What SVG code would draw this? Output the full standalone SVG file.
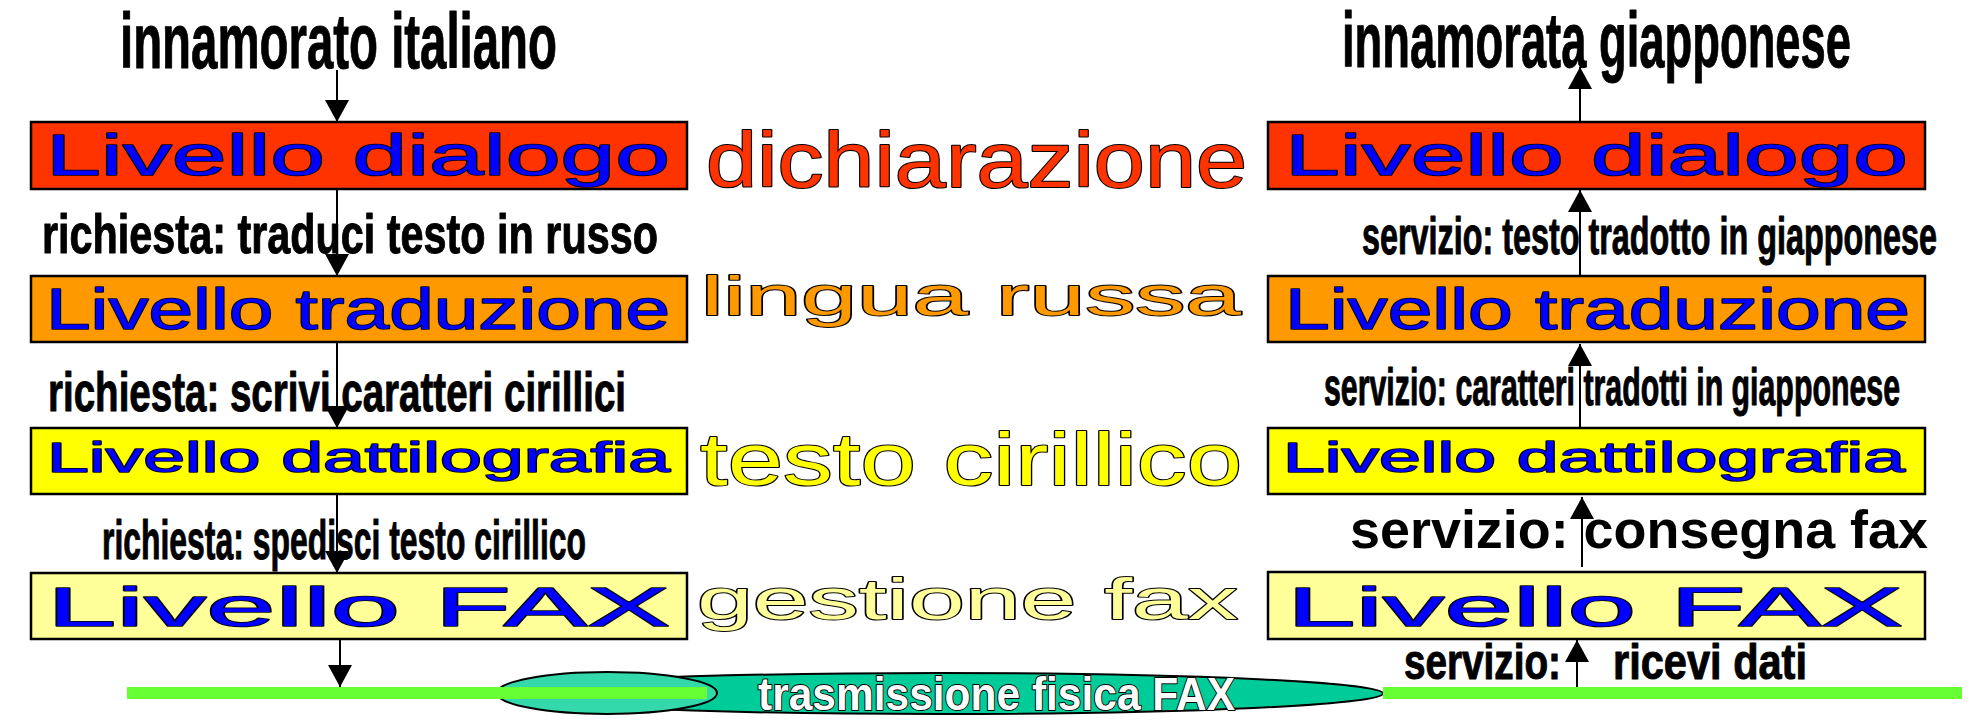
<svg xmlns="http://www.w3.org/2000/svg" width="1984" height="726" viewBox="0 0 1984 726">
<style>
.box{stroke:#000;stroke-width:2.5}
.lv{font-family:"Liberation Sans",Arial,sans-serif;fill:#0000FF;stroke:#000;stroke-width:1.6;paint-order:stroke fill;stroke-linejoin:round}
.cond{font-family:"Liberation Sans Narrow","Liberation Sans",Arial,sans-serif;font-weight:bold;fill:#000;stroke:#000;stroke-width:1;stroke-linejoin:round}
.mid{font-family:"Liberation Sans",Arial,sans-serif;stroke:#000;stroke-width:2;paint-order:stroke fill;stroke-linejoin:round}
.ln{stroke:#000;stroke-width:2;fill:none}
.green{fill:#66FF33}
</style>
<defs>
<marker id="ah" markerUnits="userSpaceOnUse" markerWidth="24" markerHeight="24" viewBox="0 0 24 24" refX="22" refY="12" orient="auto">
<path d="M0,0 L22,12 L0,24 Z" fill="#000"/>
</marker>
</defs>
<rect width="1984" height="726" fill="#fff"/>

<!-- bottom physical layer -->
<g id="physical">
<ellipse cx="940" cy="693.5" rx="443" ry="20.5" fill="#00CC99" stroke="#000" stroke-width="2"/>
<ellipse cx="607" cy="693" rx="110" ry="21" fill="#33D9AA" stroke="#000" stroke-width="2"/>
<rect class="green" x="127" y="687" width="580" height="12"/>
<rect class="green" x="1383" y="687" width="579" height="12"/>
<text class="mid" x="758" y="710" font-size="46" font-weight="bold" fill="#fff" textLength="477" lengthAdjust="spacingAndGlyphs" style="font-family:'Liberation Sans Narrow','Liberation Sans',Arial,sans-serif">trasmissione fisica FAX</text>
</g>

<!-- connectors -->
<g id="connectors">
<line class="ln" x1="337" y1="70" x2="337" y2="122" marker-end="url(#ah)"/>
<line class="ln" x1="337" y1="189" x2="337" y2="276" marker-end="url(#ah)"/>
<line class="ln" x1="337" y1="342" x2="337" y2="428" marker-end="url(#ah)"/>
<line class="ln" x1="337" y1="494" x2="337" y2="573" marker-end="url(#ah)"/>
<line class="ln" x1="340" y1="639" x2="340" y2="687" marker-end="url(#ah)"/>
<line class="ln" x1="1580" y1="122" x2="1580" y2="67" marker-end="url(#ah)"/>
<line class="ln" x1="1580" y1="276" x2="1580" y2="190" marker-end="url(#ah)"/>
<line class="ln" x1="1580" y1="428" x2="1580" y2="344" marker-end="url(#ah)"/>
<line class="ln" x1="1582" y1="567" x2="1582" y2="497" marker-end="url(#ah)"/>
<line class="ln" x1="1577" y1="687" x2="1577" y2="640" marker-end="url(#ah)"/>
</g>

<!-- top labels -->
<g id="sender-label"><text class="cond" x="120" y="68" font-size="78" textLength="437" lengthAdjust="spacingAndGlyphs">innamorato italiano</text></g>
<g id="receiver-label"><text class="cond" x="1342" y="67" font-size="78" textLength="509" lengthAdjust="spacingAndGlyphs">innamorata giapponese</text></g>

<!-- left stack -->
<g id="left-dialogo">
<rect class="box" x="31" y="122" width="656" height="67" fill="#FF3300"/>
<text class="lv" x="46" y="175" font-size="58" textLength="624" lengthAdjust="spacingAndGlyphs">Livello dialogo</text>
</g>
<g id="left-traduzione">
<rect class="box" x="31" y="276" width="656" height="66" fill="#FF9900"/>
<text class="lv" x="46" y="329" font-size="57" textLength="624" lengthAdjust="spacingAndGlyphs">Livello traduzione</text>
</g>
<g id="left-dattilografia">
<rect class="box" x="31" y="428" width="656" height="66" fill="#FFFF00"/>
<text class="lv" x="47" y="472" font-size="42" textLength="623" lengthAdjust="spacingAndGlyphs">Livello dattilografia</text>
</g>
<g id="left-fax">
<rect class="box" x="31" y="573" width="656" height="66" fill="#FFFF99"/>
<text class="lv" x="47" y="626" font-size="56" textLength="623" lengthAdjust="spacingAndGlyphs">Livello FAX</text>
</g>

<!-- right stack -->
<g id="right-dialogo">
<rect class="box" x="1268" y="122" width="657" height="67" fill="#FF3300"/>
<text class="lv" x="1285" y="175" font-size="58" textLength="623" lengthAdjust="spacingAndGlyphs">Livello dialogo</text>
</g>
<g id="right-traduzione">
<rect class="box" x="1268" y="276" width="657" height="66" fill="#FF9900"/>
<text class="lv" x="1285" y="329" font-size="57" textLength="625" lengthAdjust="spacingAndGlyphs">Livello traduzione</text>
</g>
<g id="right-dattilografia">
<rect class="box" x="1268" y="428" width="657" height="66" fill="#FFFF00"/>
<text class="lv" x="1283" y="472" font-size="42" textLength="622" lengthAdjust="spacingAndGlyphs">Livello dattilografia</text>
</g>
<g id="right-fax">
<rect class="box" x="1268" y="572" width="657" height="67" fill="#FFFF99"/>
<text class="lv" x="1287" y="626" font-size="56" textLength="616" lengthAdjust="spacingAndGlyphs">Livello FAX</text>
</g>

<!-- middle peer protocol labels -->
<g id="peer-labels">
<text class="mid" x="706" y="187" font-size="78" fill="#FF3300" textLength="541" lengthAdjust="spacingAndGlyphs">dichiarazione</text>
<text class="mid" x="701" y="315" font-size="56" fill="#FF9900" textLength="540" lengthAdjust="spacingAndGlyphs">lingua russa</text>
<text class="mid" x="700" y="485" font-size="74" fill="#FFFF00" textLength="542" lengthAdjust="spacingAndGlyphs">testo cirillico</text>
<text class="mid" x="697" y="619" font-size="58" fill="#FFFF99" textLength="541" lengthAdjust="spacingAndGlyphs">gestione fax</text>
</g>

<!-- request labels -->
<g id="request-labels">
<text class="cond" x="42" y="253" font-size="56" textLength="616" lengthAdjust="spacingAndGlyphs">richiesta: traduci testo in russo</text>
<text class="cond" x="48" y="411" font-size="56" textLength="578" lengthAdjust="spacingAndGlyphs">richiesta: scrivi caratteri cirillici</text>
<text class="cond" x="102" y="559" font-size="56" textLength="484" lengthAdjust="spacingAndGlyphs">richiesta: spedisci testo cirillico</text>
</g>

<!-- service labels -->
<g id="service-labels">
<text class="cond" x="1362" y="254" font-size="51" textLength="575" lengthAdjust="spacingAndGlyphs">servizio: testo tradotto in giapponese</text>
<text class="cond" x="1324" y="405" font-size="51" textLength="576" lengthAdjust="spacingAndGlyphs">servizio: caratteri tradotti in giapponese</text>
<text x="1350" y="548" font-size="54" font-weight="bold" font-family="'Liberation Sans',Arial,sans-serif" textLength="578" lengthAdjust="spacingAndGlyphs">servizio: consegna fax</text>
<text class="cond" y="679" font-size="50"><tspan x="1404" textLength="157" lengthAdjust="spacingAndGlyphs">servizio:</tspan><tspan x="1613" textLength="194" lengthAdjust="spacingAndGlyphs">ricevi dati</tspan></text>
</g>
</svg>
